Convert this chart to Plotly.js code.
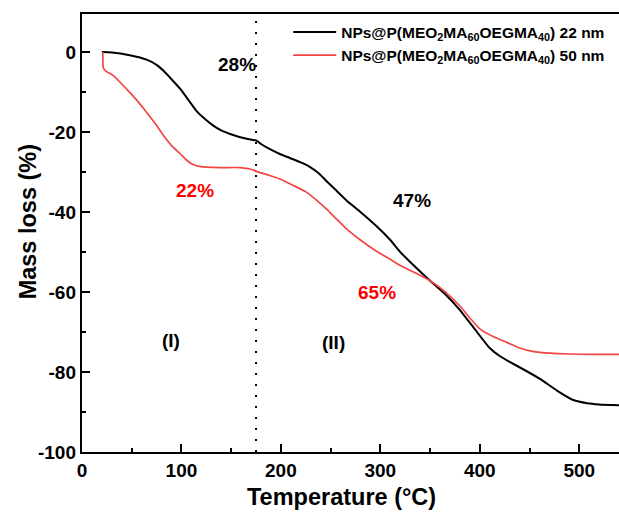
<!DOCTYPE html>
<html>
<head>
<meta charset="utf-8">
<script src="https://cdn.plot.ly/plotly-3.0.1.min.js"></script>
<style>
  html, body { margin: 0; padding: 0; background: #fff; }
  #chart { width: 619px; height: 518px; }
</style>
</head>
<body>
<div id="chart"></div>
<script>
// TGA curves: temperature (°C) vs mass loss (%)
const temp22 = [20, 30, 48, 65, 75, 82, 90, 99, 107, 115, 124, 132, 140, 149, 159, 170, 176, 180, 189, 199, 209, 220, 229, 238, 246, 256, 266, 280, 296, 310, 320, 335, 350, 365, 379, 395, 410, 420, 431, 445, 461, 478, 494, 508, 520, 540];
const loss22 = [0, -0.1, -0.8, -1.9, -3.2, -4.7, -6.8, -9.3, -12, -14.7, -16.8, -18.4, -19.6, -20.5, -21.3, -21.9, -22.2, -23.0, -24.3, -25.5, -26.5, -27.6, -28.7, -30.3, -32.3, -34.7, -37.1, -40.0, -43.5, -47, -50, -53.7, -57.2, -60.5, -64.2, -69.3, -74, -76, -77.6, -79.5, -81.8, -84.7, -87, -87.8, -88.1, -88.3];

const temp50 = [21, 21.5, 24, 31.5, 40, 48, 57, 65, 74, 82, 90, 99, 105, 112, 118, 125, 140, 159, 170, 176, 188, 199, 212, 226, 236, 246, 256, 266, 280, 293, 307, 320, 335, 350, 365, 380, 390, 400, 414, 427, 440, 454, 471, 490, 510, 540];
const loss50 = [0, -4, -4.8, -5.9, -8, -10.1, -12.6, -15.1, -18, -20.9, -23.4, -25.5, -27, -28.2, -28.6, -28.8, -28.9, -28.9, -29.3, -29.9, -30.8, -31.75, -33.3, -35.1, -37.1, -39.3, -41.8, -44.2, -47, -49.3, -51.4, -53.4, -55.2, -57.2, -59.9, -63.5, -66.5, -69.2, -71.2, -72.6, -74.0, -74.9, -75.3, -75.5, -75.6, -75.6];

const seriesNames = [
  'NPs@P(MEO<sub>2</sub>MA<sub>60</sub>OEGMA<sub>40</sub>) 22 nm',
  'NPs@P(MEO<sub>2</sub>MA<sub>60</sub>OEGMA<sub>40</sub>) 50 nm'
];

// Y tick labels written with a plain hyphen
const yTickVals = [-100, -80, -60, -40, -20, 0];
const yTickText = ['-100', '-80', '-60', '-40', '-20', '0'];

// Boundary between stage (I) and stage (II)
const stageBoundary = 175;

// Text labels inside the plot
const labelX = [156, 114, 332, 297, 89, 253];
const labelY = [-3, -34.5, -37.2, -60, -72.2, -72.6];
const labelText = ['28%', '22%', '47%', '65%', '(I)', '(II)'];
const labelColor = ['#000', '#ff0000', '#000', '#ff0000', '#000', '#000'];

const xTitle = 'Temperature (°C)';
const yTitle = 'Mass loss (%)';

const FONT = 'Liberation Sans, Arial, Helvetica, sans-serif';

const traces = [
  {
    x: temp22, y: loss22, name: seriesNames[0], type: 'scatter', mode: 'lines',
    line: { color: '#000000', width: 2, shape: 'spline', smoothing: 0.6 }
  },
  {
    x: temp50, y: loss50, name: seriesNames[1], type: 'scatter', mode: 'lines',
    line: { color: 'rgb(240,70,70)', width: 1.7, shape: 'spline', smoothing: 0.6 }
  }
];

const annotations = labelText.map((t, i) => ({
  x: labelX[i], y: labelY[i], xref: 'x', yref: 'y', text: t, showarrow: false,
  font: { family: FONT, size: 19, color: labelColor[i], weight: 'bold' }
}));

// Axis titles, placed in paper coordinates
annotations.push({
  text: xTitle, xref: 'paper', yref: 'paper', x: 0.484, y: -0.103,
  xanchor: 'center', yanchor: 'middle', showarrow: false,
  font: { family: FONT, size: 23.5, color: '#000', weight: 'bold' }
});
annotations.push({
  text: yTitle, xref: 'paper', yref: 'paper', x: -0.1, y: 0.525,
  xanchor: 'center', yanchor: 'middle', textangle: -90, showarrow: false,
  font: { family: FONT, size: 23.5, color: '#000', weight: 'bold' }
});

const layout = {
  width: 619, height: 518,
  margin: { l: 82, r: 0, t: 14, b: 66 },
  paper_bgcolor: '#fff', plot_bgcolor: '#fff',
  font: { family: FONT, color: '#000', weight: 'bold' },
  showlegend: true,
  legend: {
    x: 0.384, xanchor: 'left', y: 0.997, yanchor: 'top',
    bgcolor: 'rgba(0,0,0,0)', borderwidth: 0,
    itemwidth: 43,
    font: { family: FONT, size: 15.5, color: '#000', weight: 'bold' },
    tracegroupgap: 0
  },
  xaxis: {
    range: [0, 540], dtick: 100, tick0: 0,
    showgrid: false, zeroline: false,
    showline: true, linecolor: '#000', linewidth: 2.2, mirror: true,
    ticks: 'inside', ticklen: 8, tickwidth: 2, tickcolor: '#000',
    minor: { dtick: 50, ticks: 'inside', ticklen: 4, tickwidth: 2, tickcolor: '#000' },
    tickfont: { family: FONT, size: 19, color: '#000', weight: 'bold' }
  },
  yaxis: {
    range: [-100, 9.5], tickmode: 'array', tickvals: yTickVals, ticktext: yTickText,
    showgrid: false, zeroline: false,
    showline: true, linecolor: '#000', linewidth: 2.2, mirror: false,
    ticks: 'inside', ticklen: 8, tickwidth: 2, tickcolor: '#000',
    minor: { dtick: 10, tick0: 0, ticks: 'inside', ticklen: 4, tickwidth: 2, tickcolor: '#000' },
    tickfont: { family: FONT, size: 19, color: '#000', weight: 'bold' }
  },
  shapes: [{
    type: 'line', xref: 'x', yref: 'paper', x0: stageBoundary, x1: stageBoundary, y0: 0, y1: 1,
    line: { color: '#000', width: 2, dash: '2px,9px' }
  }],
  annotations: annotations
};

Plotly.newPlot('chart', traces, layout, { displayModeBar: false, staticPlot: true });
</script>
</body>
</html>
